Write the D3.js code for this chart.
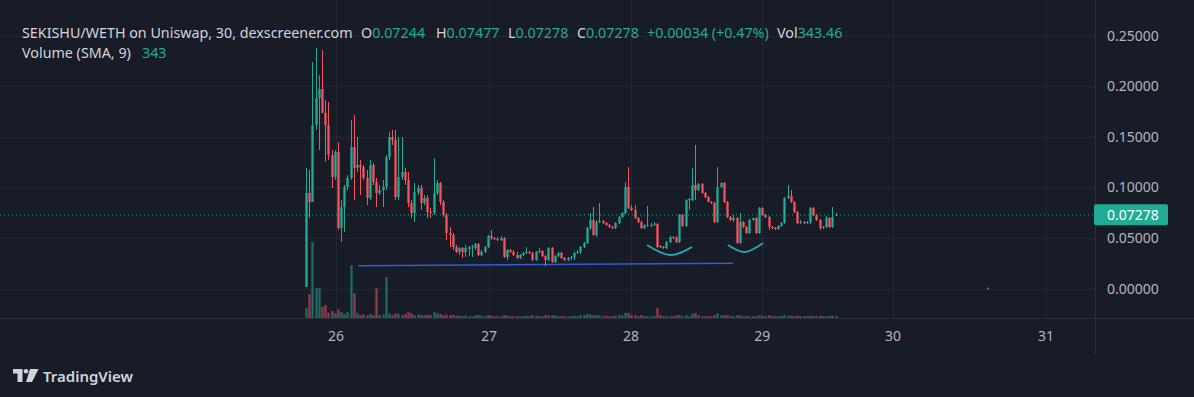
<!DOCTYPE html>
<html><head><meta charset="utf-8">
<script src="https://cdn.jsdelivr.net/npm/d3@7"></script>
<style>html,body{margin:0;padding:0;background:#181c27;overflow:hidden}</style>
</head><body><svg id="c" width="1194" height="397"></svg>
<script>
// ---- data (30-minute bars, SEKISHU/WETH) ----
const opens = [0.0015,0.0944,0.0855,0.1615,0.1882,0.1971,0.1734,0.1615,0.1319,
0.1102,0.1349,0.0598,0.0805,0.1003,0.1092,0.1398,0.1191,0.1220,0.1200,0.1092,0.0894,0.1220,0.1052,0.0944,0.0973,0.1003,0.1299,0.1497,0.1467,0.0904,0.1102,0.1151,0.1072,0.0845,0.0746,0.0953,0.0993,0.0845,0.0894,0.0756,0.0746,0.0944,0.1042,0.0855,0.0726,0.0548,0.0529,0.0410,0.0361,0.0400,0.0361,0.0390,0.0410,0.0400,0.0440,0.0331,0.0361,
0.0410,0.0519,0.0499,0.0489,0.0479,0.0499,0.0311,0.0380,0.0361,0.0331,0.0301,0.0331,0.0351,0.0361,0.0351,0.0282,0.0361,0.0371,0.0321,0.0282,0.0400,0.0262,0.0321,0.0351,0.0301,0.0282,0.0301,0.0311,0.0351,0.0361,0.0410,0.0450,0.0598,0.0677,0.0529,0.0657,0.0667,0.0647,0.0627,0.0608,0.0598,0.0647,0.0706,0.0746,0.1003,0.0795,
0.0776,0.0697,0.0657,0.0598,0.0618,0.0618,0.0627,0.0637,0.0420,0.0410,0.0400,0.0459,0.0509,0.0499,0.0459,0.0726,0.0618,0.0874,0.0874,0.1023,0.0973,0.1032,0.0944,0.0904,0.0855,0.0845,0.0657,0.1003,0.1042,0.0855,0.0706,0.0677,0.0697,0.0450,0.0657,0.0608,0.0548,0.0677,0.0697,0.0548,
0.0795,0.0726,0.0706,0.0608,0.0598,0.0588,0.0618,0.0647,0.0894,0.0914,0.0855,0.0756,0.0647,0.0657,0.0647,0.0657,0.0795,0.0726,0.0677,0.0598,0.0608,0.0697,0.0608,0.07244];
const highs = [0.1191,0.1171,0.2238,0.2376,0.2109,0.2356,0.1862,0.1843,0.1368,
0.1368,0.1447,0.0874,0.1023,0.1121,0.1665,0.1714,0.1497,0.1270,0.1220,0.1171,0.1270,0.1240,0.1092,0.1023,0.1072,0.1319,0.1546,0.1566,0.1566,0.1497,0.1497,0.1191,0.1151,0.0874,0.1042,0.1023,0.1023,0.0924,0.0924,0.0795,0.1289,0.1072,0.1052,0.0874,0.0746,0.0608,0.0548,0.0430,0.0410,0.0410,0.0430,0.0420,0.0430,0.0450,0.0450,0.0380,0.0420,
0.0529,0.0578,0.0509,0.0509,0.0519,0.0509,0.0390,0.0390,0.0380,0.0361,0.0341,0.0361,0.0410,0.0371,0.0361,0.0371,0.0400,0.0380,0.0331,0.0410,0.0410,0.0331,0.0361,0.0361,0.0311,0.0311,0.0321,0.0361,0.0380,0.0420,0.0459,0.0608,0.0746,0.0805,0.0677,0.0845,0.0677,0.0657,0.0637,0.0618,0.0657,0.0716,0.0756,0.1052,0.1200,0.0825,
0.0825,0.0706,0.0667,0.0637,0.0815,0.0647,0.0657,0.0647,0.0430,0.0420,0.0469,0.0519,0.0519,0.0519,0.0736,0.0736,0.0884,0.0894,0.1191,0.1418,0.1042,0.1042,0.0953,0.0914,0.0865,0.0855,0.1200,0.1052,0.1052,0.0865,0.0716,0.0726,0.0706,0.0746,0.0667,0.0618,0.0687,0.0697,0.0706,0.0805,
0.0805,0.0736,0.0716,0.0618,0.0608,0.0627,0.0657,0.0904,0.1023,0.0973,0.0865,0.0766,0.0677,0.0667,0.0667,0.0805,0.0805,0.0736,0.0687,0.0618,0.0716,0.0706,0.0805,0.07477];
const lows = [0.0015,0.0697,0.0855,0.1566,0.1368,0.1734,0.1250,0.1270,0.0993,
0.1072,0.0578,0.0459,0.0558,0.0973,0.1072,0.0874,0.1151,0.0924,0.1072,0.0825,0.0874,0.1023,0.0805,0.0924,0.0805,0.0973,0.1270,0.1418,0.0874,0.0874,0.1072,0.1023,0.0805,0.0697,0.0657,0.0924,0.0776,0.0825,0.0697,0.0697,0.0726,0.0924,0.0825,0.0706,0.0479,0.0410,0.0380,0.0351,0.0331,0.0301,0.0311,0.0321,0.0311,0.0380,0.0321,0.0321,0.0351,
0.0400,0.0479,0.0479,0.0469,0.0469,0.0301,0.0282,0.0351,0.0321,0.0291,0.0291,0.0321,0.0341,0.0341,0.0272,0.0272,0.0351,0.0311,0.0222,0.0272,0.0252,0.0252,0.0311,0.0291,0.0272,0.0272,0.0282,0.0282,0.0341,0.0341,0.0400,0.0440,0.0578,0.0519,0.0509,0.0647,0.0637,0.0618,0.0598,0.0588,0.0588,0.0637,0.0697,0.0736,0.0785,0.0766,
0.0687,0.0647,0.0588,0.0588,0.0608,0.0608,0.0618,0.0400,0.0400,0.0390,0.0390,0.0450,0.0489,0.0450,0.0450,0.0608,0.0608,0.0776,0.0865,0.0874,0.0963,0.0934,0.0894,0.0855,0.0835,0.0647,0.0647,0.0993,0.0845,0.0697,0.0667,0.0657,0.0440,0.0440,0.0598,0.0538,0.0538,0.0667,0.0538,0.0538,
0.0716,0.0697,0.0578,0.0588,0.0578,0.0578,0.0608,0.0637,0.0884,0.0845,0.0746,0.0637,0.0637,0.0637,0.0637,0.0637,0.0716,0.0667,0.0578,0.0588,0.0598,0.0598,0.0598,0.07244];
const closes = [0.0944,0.0855,0.1615,0.1882,0.1971,0.1734,0.1615,0.1319,0.1102,
0.1349,0.0598,0.0805,0.1003,0.1092,0.1398,0.1191,0.1220,0.1200,0.1092,0.0894,0.1220,0.1052,0.0944,0.0973,0.1003,0.1299,0.1497,0.1467,0.0904,0.1102,0.1151,0.1072,0.0845,0.0746,0.0953,0.0993,0.0845,0.0894,0.0756,0.0746,0.0944,0.1042,0.0855,0.0726,0.0548,0.0529,0.0410,0.0361,0.0400,0.0361,0.0400,0.0410,0.0420,0.0440,0.0331,0.0361,0.0410,
0.0519,0.0499,0.0489,0.0479,0.0499,0.0311,0.0380,0.0361,0.0331,0.0301,0.0331,0.0351,0.0361,0.0351,0.0282,0.0361,0.0371,0.0321,0.0282,0.0400,0.0262,0.0321,0.0351,0.0301,0.0282,0.0301,0.0311,0.0351,0.0361,0.0410,0.0450,0.0598,0.0677,0.0529,0.0657,0.0667,0.0647,0.0627,0.0608,0.0598,0.0647,0.0706,0.0746,0.1003,0.0795,0.0776,
0.0697,0.0657,0.0598,0.0618,0.0627,0.0627,0.0637,0.0410,0.0410,0.0400,0.0459,0.0509,0.0499,0.0459,0.0726,0.0618,0.0874,0.0884,0.1023,0.0973,0.1032,0.0944,0.0904,0.0855,0.0845,0.0657,0.1003,0.1042,0.0855,0.0706,0.0677,0.0697,0.0450,0.0657,0.0608,0.0548,0.0677,0.0697,0.0548,0.0795,
0.0726,0.0706,0.0608,0.0598,0.0588,0.0618,0.0647,0.0894,0.0914,0.0855,0.0756,0.0647,0.0657,0.0647,0.0657,0.0795,0.0726,0.0677,0.0598,0.0608,0.0697,0.0608,0.0706,0.07278];
const volumes = [1700,4100,13000,5100,5100,1900,2200,900,1200,
800,1500,1000,700,1000,9000,4200,800,500,600,500,700,500,5100,500,600,7000,800,500,800,700,500,700,1000,800,500,600,500,500,600,500,1000,800,700,500,600,500,500,400,400,300,400,300,300,500,500,400,300,
500,400,300,300,300,500,400,300,300,300,300,300,400,300,500,400,300,300,500,500,500,400,300,300,300,300,300,400,300,500,500,700,600,500,500,500,300,400,300,300,400,500,400,900,900,500,
500,300,500,300,300,300,300,1700,500,300,300,300,300,500,500,300,500,300,700,900,500,300,300,300,300,500,800,500,500,500,300,300,500,500,300,300,300,300,300,500,
300,300,500,300,300,300,300,500,400,400,300,400,300,300,300,400,300,300,400,300,300,300,400,343.46];
const priceTicks = [0, 0.05, 0.10, 0.15, 0.20, 0.25];
const dayLabels = ["26","27","28","29","30","31"];
const dayBars = [9.4, 57.4, 101.9, 143, 184, 232];   // bar index where each day begins
const lastPrice = 0.07278;
const trendBars = [16.3, 133.9], trendPrices = [0.0225, 0.0249];
const arc1Bars = [106.9, 114.1, 121.0], arc1Prices = [0.0430, 0.0331, 0.0410];
const arc2Bars = [132.3, 137.6, 143.3], arc2Prices = [0.0430, 0.0361, 0.0450];
const markerBar = [213.8], markerPrice = [0.0];

// ---- layout ----
const W = 1194, H = 397, plotR = 1095, plotB = 318;
const GREEN = "#22ab94", RED = "#f7525f", TXT = "#b2b5be", GRID = "#242834", BORDER = "#2a2e39";
const FONT = "'Noto Sans', 'Open Sans', sans-serif";
const svg = d3.select("#c");
svg.append("rect").attr("width", W).attr("height", H).attr("fill", "#181c27");

const x = d3.scaleLinear().domain([-95.92, 247.34]).range([0, plotR]);
const y = d3.scaleLinear().domain([0, 0.25]).range([288.5, 35.5]);
const yv = d3.scaleLinear().domain([0, 13000]).range([plotB, 242]);
const bw = Math.max(1, (x(1) - x(0)) * 0.72);

// grid
const g = svg.append("g");
g.selectAll(".hg").data(priceTicks).join("line")
  .attr("x1", 0).attr("x2", plotR).attr("y1", d => Math.round(y(d)) + 0.5).attr("y2", d => Math.round(y(d)) + 0.5)
  .attr("stroke", GRID).attr("stroke-width", 1);
g.selectAll(".vg").data(dayBars).join("line")
  .attr("x1", d => Math.round(x(d)) + 0.5).attr("x2", d => Math.round(x(d)) + 0.5).attr("y1", 0).attr("y2", plotB)
  .attr("stroke", GRID).attr("stroke-width", 1);

// borders
svg.append("line").attr("x1", plotR + 0.5).attr("x2", plotR + 0.5).attr("y1", 0).attr("y2", 355).attr("stroke", BORDER);
svg.append("line").attr("x1", 0).attr("x2", W).attr("y1", plotB + 0.5).attr("y2", plotB + 0.5).attr("stroke", BORDER);

// volume
const idx = d3.range(closes.length);
svg.append("g").selectAll("rect").data(idx).join("rect")
  .attr("x", i => Math.round(x(i)) + 0.5 - bw / 2).attr("width", bw)
  .attr("y", i => yv(volumes[i])).attr("height", i => plotB - yv(volumes[i]))
  .attr("fill", i => closes[i] >= opens[i] ? GREEN : RED).attr("opacity", 0.55);

// trend line
svg.append("path").datum(d3.range(trendBars.length))
  .attr("d", d3.line().x(i => x(trendBars[i])).y(i => y(trendPrices[i])))
  .attr("stroke", "#2f5bd9").attr("stroke-width", 1.6).attr("fill", "none");

// candles
const cg = svg.append("g");
cg.selectAll("line").data(idx).join("line")
  .attr("x1", i => Math.round(x(i)) + 0.5).attr("x2", i => Math.round(x(i)) + 0.5)
  .attr("y1", i => y(highs[i])).attr("y2", i => y(lows[i]))
  .attr("stroke", i => closes[i] >= opens[i] ? GREEN : RED).attr("stroke-width", 1);
cg.selectAll("rect").data(idx).join("rect")
  .attr("x", i => Math.round(x(i)) + 0.5 - bw / 2).attr("width", bw)
  .attr("y", i => y(Math.max(opens[i], closes[i])))
  .attr("height", i => Math.max(1, Math.abs(y(opens[i]) - y(closes[i]))))
  .attr("fill", i => closes[i] >= opens[i] ? GREEN : RED);

// arcs
const arcLine = (bars, prices) => d3.line().curve(d3.curveNatural).x(i => x(bars[i])).y(i => y(prices[i]))(d3.range(bars.length));
[[arc1Bars, arc1Prices], [arc2Bars, arc2Prices]].forEach(([b, p]) => {
  svg.append("path").attr("d", arcLine(b, p)).attr("stroke", "#2aa3b8").attr("stroke-width", 1.8).attr("fill", "none");
});

// marker
svg.selectAll(".mk").data(markerBar).join("circle")
  .attr("cx", (d) => x(d)).attr("cy", (d, i) => y(markerPrice[i])).attr("r", 1).attr("fill", GREEN);

// last price line
svg.append("line").attr("x1", 0).attr("x2", plotR).attr("y1", y(lastPrice)).attr("y2", y(lastPrice))
  .attr("stroke", GREEN).attr("stroke-dasharray", "1,3").attr("stroke-width", 1);

// price axis labels
const AX = 14;
svg.append("g").selectAll("text").data(priceTicks).join("text")
  .attr("x", 1107).attr("y", d => y(d) + 5).text(d => d.toFixed(5))
  .attr("fill", TXT).attr("font-family", FONT).attr("font-size", AX);
svg.append("rect").attr("x", 1094).attr("y", y(lastPrice) - 10.5).attr("width", 74).attr("height", 21).attr("rx", 2).attr("fill", GREEN);
svg.append("text").attr("x", 1107).attr("y", y(lastPrice) + 5).text(lastPrice.toFixed(5))
  .attr("fill", "#ffffff").attr("font-family", FONT).attr("font-size", AX);

// time axis labels
svg.append("g").selectAll("text").data(dayLabels).join("text")
  .attr("x", (d, i) => x(dayBars[i])).attr("y", 341).attr("text-anchor", "middle").text(d => d)
  .attr("fill", TXT).attr("font-family", FONT).attr("font-size", AX);

// header legend
const HDR = "#d1d4dc", TEAL = GREEN, HF = 14.3;
const hdr = (tx, xx, yy, col) => svg.append("text").attr("x", xx).attr("y", yy).text(tx)
  .attr("fill", col).attr("font-family", FONT).attr("font-size", HF);
hdr("SEKISHU/WETH on Uniswap, 30, dexscreener.com", 22, 38, HDR);
const last = closes.length - 1;
const parts = [["O", opens[last].toFixed(5), 361], ["H", highs[last].toFixed(5), 436], ["L", "0.07278", 508], ["C", closes[last].toFixed(5), 577]];
parts.forEach(([k, v, xx]) => {
  const t = svg.append("text").attr("x", xx).attr("y", 38).attr("font-family", FONT).attr("font-size", HF);
  t.append("tspan").attr("fill", HDR).text(k);
  t.append("tspan").attr("fill", TEAL).text(v);
});
hdr("+0.00034 (+0.47%)", 647, 38, TEAL);
const vt = svg.append("text").attr("x", 777).attr("y", 38).attr("font-family", FONT).attr("font-size", HF);
vt.append("tspan").attr("fill", HDR).text("Vol");
vt.append("tspan").attr("fill", TEAL).text(volumes[last].toFixed(2));
hdr("Volume (SMA, 9)", 22, 58, HDR);
hdr("343", 142, 58, TEAL);

// TradingView logo
const lg = svg.append("g").attr("fill", "#d1d4dc");
lg.append("path").attr("d", "M13,369 H22.5 V382 H17.5 V373.5 H13 Z");
lg.append("circle").attr("cx", 26).attr("cy", 371.3).attr("r", 2.3);
lg.append("path").attr("d", "M30,369 H38.5 L32,382 H26 Z");
lg.append("text").attr("x", 43).attr("y", 381.5).text("TradingView")
  .attr("font-family", FONT).attr("font-size", 15).attr("font-weight", 600);
</script>
</body></html>
